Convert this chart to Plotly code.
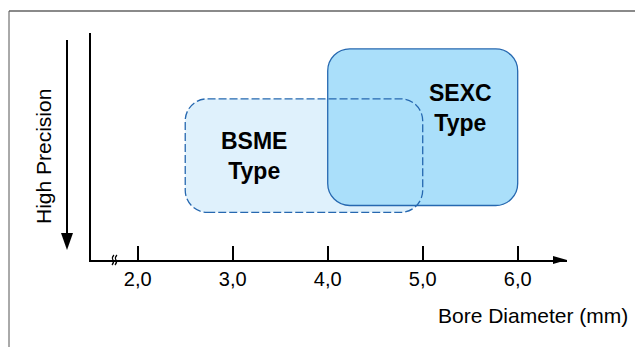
import plotly.graph_objects as go

# --- data -------------------------------------------------------------
TYPES = ["BSME", "SEXC"]
BORE_MIN = [2.5, 4.0]          # mm
BORE_MAX = [5.0, 6.0]          # mm
PREC_LOW = [2.1, 2.4]          # arbitrary precision scale (0 = low, 10 = high)
PREC_HIGH = [7.1, 9.3]
LABEL_X = [3.22, 5.40]
LABEL_Y = [4.6, 6.7]

X_TICKS = [2.0, 3.0, 4.0, 5.0, 6.0]
X_TICK_TEXT = ["2,0", "3,0", "4,0", "5,0", "6,0"]
BREAK_AT = 1.755

X_TITLE = "Bore Diameter (mm)"
Y_TITLE = "High Precision"

# --- geometry / style -------------------------------------------------
W, H = 643, 347
OFF = 8  # page body margin: figure sits 8px in from the window corner
# plot area edges in window pixels
LEFT, RIGHT, TOP, BOTTOM = 91, 567, 33, 260
ML, MR = LEFT - OFF, W - (RIGHT - OFF)
MT, MB = TOP - OFF, H - (BOTTOM - OFF)
X_RANGE = [1.508, 6.519]
Y_RANGE = [0, 10]
PW, PH = RIGHT - LEFT, BOTTOM - TOP
PX_X = PW / (X_RANGE[1] - X_RANGE[0])
PX_Y = PH / (Y_RANGE[1] - Y_RANGE[0])

FONT = "Liberation Sans, Arial, sans-serif"
BORDER = "rgb(38,104,176)"
FILLS = ["rgb(223,241,252)", "rgb(170,223,250)"]
DASHES = ["8px,3px", "solid"]
CORNER = 22  # px


def rounded_rect(x0, x1, y0, y1, r_px):
    rx, ry = r_px / PX_X, r_px / PX_Y
    k = 0.5523
    return (
        f"M{x0 + rx},{y0} L{x1 - rx},{y0} "
        f"C{x1 - rx + k * rx},{y0} {x1},{y0 + ry - k * ry} {x1},{y0 + ry} "
        f"L{x1},{y1 - ry} "
        f"C{x1},{y1 - ry + k * ry} {x1 - rx + k * rx},{y1} {x1 - rx},{y1} "
        f"L{x0 + rx},{y1} "
        f"C{x0 + rx - k * rx},{y1} {x0},{y1 - ry + k * ry} {x0},{y1 - ry} "
        f"L{x0},{y0 + ry} "
        f"C{x0},{y0 + ry - k * ry} {x0 + rx - k * rx},{y0} {x0 + rx},{y0} Z"
    )


def px_x(px):
    """window pixel x -> paper fraction"""
    return (px - LEFT) / PW


def px_y(py):
    """window pixel y -> paper fraction"""
    return (BOTTOM - py) / PH


fig = go.Figure()
fig.add_trace(go.Scatter(x=[None], y=[None], showlegend=False, hoverinfo="skip"))

shapes = []
paths = [rounded_rect(BORE_MIN[i], BORE_MAX[i], PREC_LOW[i], PREC_HIGH[i], CORNER)
         for i in range(len(TYPES))]

# BSME fill, SEXC fill + border, then BSME dashed border on top
shapes.append(dict(type="path", path=paths[0], xref="x", yref="y",
                   fillcolor=FILLS[0], line=dict(width=0), layer="above"))
shapes.append(dict(type="path", path=paths[1], xref="x", yref="y",
                   fillcolor=FILLS[1], line=dict(color=BORDER, width=1.3), layer="above"))
shapes.append(dict(type="path", path=paths[0], xref="x", yref="y",
                   fillcolor="rgba(0,0,0,0)",
                   line=dict(color=BORDER, width=1.3, dash=DASHES[0]), layer="above"))

# outer frame (top + left edge)
shapes.append(dict(type="line", xref="paper", yref="paper",
                   x0=px_x(9), x1=px_x(W + 20),
                   y0=px_y(11), y1=px_y(11),
                   line=dict(color="#8a8a8a", width=2)))
shapes.append(dict(type="line", xref="paper", yref="paper",
                   x0=px_x(9), x1=px_x(9),
                   y0=px_y(11), y1=px_y(H + 20),
                   line=dict(color="#555555", width=1)))

# x axis arrow head
shapes.append(dict(type="path", xref="paper", yref="paper",
                   xsizemode="pixel", ysizemode="pixel",
                   xanchor=1, yanchor=0,
                   path="M0,0 L-14,4 L-14,-4 Z",
                   fillcolor="black", line=dict(width=0)))

# "High Precision" arrow
ax_px = 67
shapes.append(dict(type="line", xref="paper", yref="paper",
                   x0=px_x(ax_px), x1=px_x(ax_px),
                   y0=px_y(40), y1=px_y(236),
                   line=dict(color="black", width=2)))
shapes.append(dict(type="path", xref="paper", yref="paper",
                   xsizemode="pixel", ysizemode="pixel",
                   xanchor=px_x(ax_px), yanchor=px_y(250),
                   path="M0,0 L-6,17 L6,17 Z",
                   fillcolor="black", line=dict(width=0)))

# axis break mark
shapes.append(dict(type="path", xref="x", yref="paper",
                   xsizemode="pixel", ysizemode="pixel",
                   xanchor=BREAK_AT, yanchor=0,
                   path=("M-2.5,-5 Q0,-2.5 -1.5,0 Q-3,2.5 -0.5,5 "
                         "M0.5,-5 Q3,-2.5 1.5,0 Q0,2.5 2.5,5"),
                   line=dict(color="black", width=1.2)))

annotations = []
for i, name in enumerate(TYPES):
    annotations.append(dict(
        x=LABEL_X[i], y=LABEL_Y[i],
        xref="x", yref="y", text=f"<b>{name}<br>Type</b>", showarrow=False,
        font=dict(family=FONT, size=23, color="black"),
        align="center", xanchor="center", yanchor="middle"))

annotations.append(dict(x=px_x(630), y=px_y(315), xref="paper", yref="paper",
                        text=X_TITLE, showarrow=False, xanchor="right", yanchor="middle",
                        font=dict(family=FONT, size=21, color="black")))
annotations.append(dict(x=px_x(43), y=px_y(157), xref="paper", yref="paper",
                        text=Y_TITLE, showarrow=False, textangle=-90,
                        xanchor="center", yanchor="middle",
                        font=dict(family=FONT, size=21, color="black")))

fig.update_layout(
    width=W, height=H,
    margin=dict(l=ML, r=MR, t=MT, b=MB),
    paper_bgcolor="white", plot_bgcolor="white",
    showlegend=False,
    shapes=shapes,
    annotations=annotations,
    xaxis=dict(range=X_RANGE, tickvals=X_TICKS, ticktext=X_TICK_TEXT,
               ticks="inside", ticklen=14, tickwidth=1.5, tickcolor="black",
               showline=True, linecolor="black", linewidth=2,
               showgrid=False, zeroline=False, fixedrange=True,
               tickfont=dict(family=FONT, size=20, color="black")),
    yaxis=dict(range=Y_RANGE, showticklabels=False, ticks="",
               showline=True, linecolor="black", linewidth=2,
               showgrid=False, zeroline=False, fixedrange=True),
)

fig.write_html("out.html")
